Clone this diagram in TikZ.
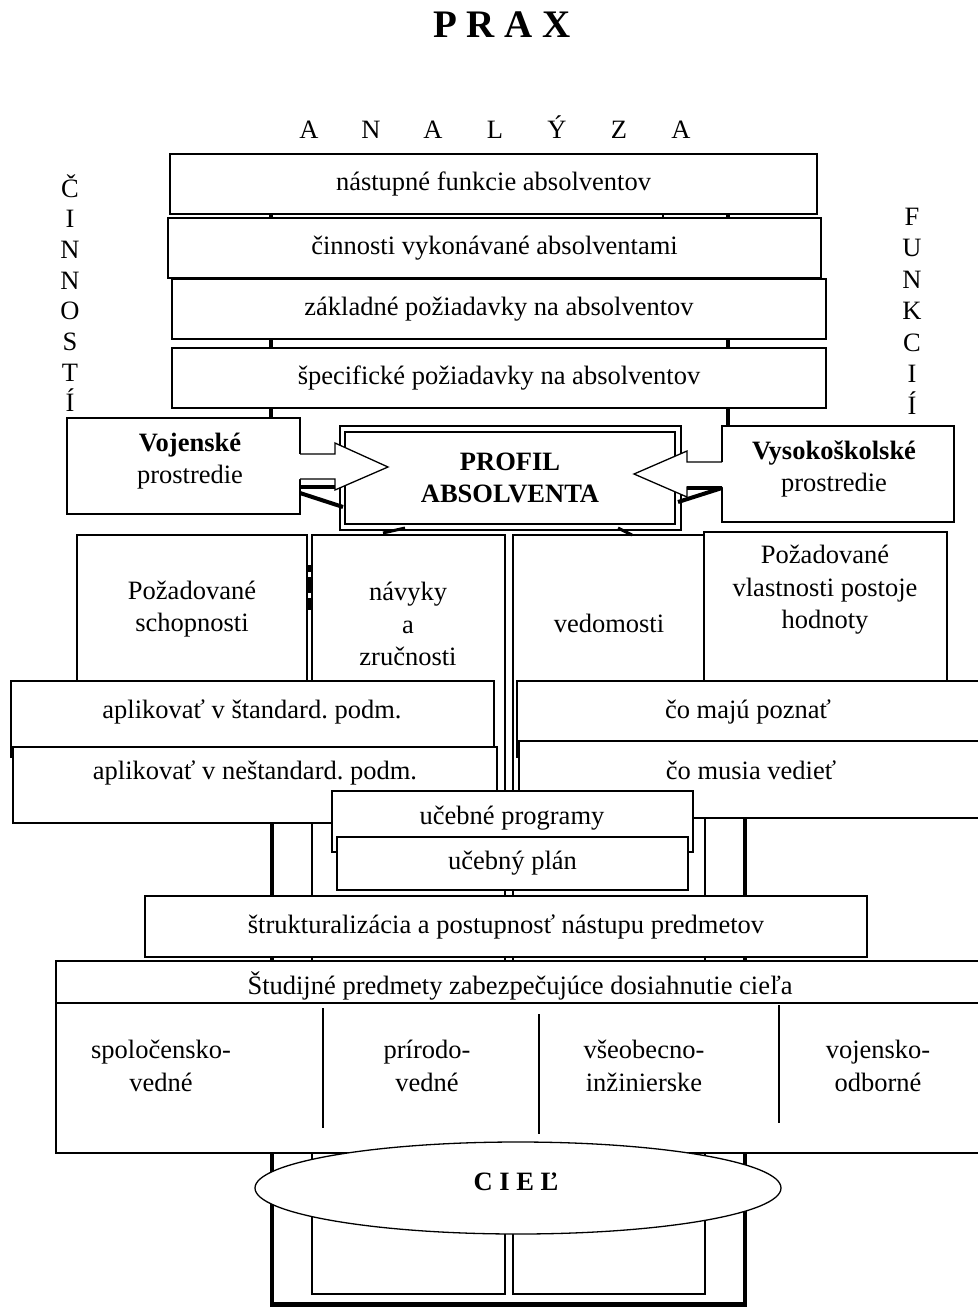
\documentclass[tikz,border=0pt]{standalone}
\usepackage{fontspec}
\setmainfont{Liberation Serif}
\usetikzlibrary{shapes.geometric}
\frenchspacing
\newcommand\fs{\fontsize{26.5}{32.5}\selectfont}
\newcommand\mybox[6]{\node[rbox, minimum width={(#4-#2)*1pt}, minimum height={(#5-#3)*1pt}] (#1) at ({(#2+#4)/2},{(#3+#5)/2}) {#6};}
\begin{document}
\begin{tikzpicture}[x=1pt,y=-1pt,
 rbox/.style={draw, fill=white, line width=1.3pt, inner sep=0pt, align=center, font=\fs},
 txt/.style={inner sep=0pt, align=center, font=\fs},
 letter/.style={inner sep=0pt, anchor=base, font=\fs},
 thk/.style={line width=4.5pt, line join=miter},
 bline/.style={line width=1.3pt, line join=miter}]
\useasboundingbox (0,0) rectangle (977,1308);
% titles
\node[txt, font=\bfseries\fontsize{39}{47}\selectfont] (title) at (502,25) {P R A X};
\foreach \l [count=\i from 0] in {A,N,A,L,Ý,Z,A} \node[letter] (an\i) at (309+62*\i,139) {\l};
\foreach \l [count=\i from 0] in {Č,I,N,N,O,S,T,Í} \node[letter] (cin\i) at (70,197+30.7*\i) {\l};
\foreach \l [count=\i from 0] in {F,U,N,K,C,I,Í} \node[letter] (fun\i) at (912,225+31.5*\i) {\l};
% top stack
\mybox{b1}{170}{154}{817}{214}{nástupné funkcie absolventov}
\mybox{b2}{168}{218}{821}{278}{činnosti vykonávané absolventami}
\mybox{b3}{172}{279}{826}{339}{základné požiadavky na absolventov}
\mybox{b4}{172}{348}{826}{408}{špecifické požiadavky na absolventov}
\mybox{voj}{67}{418}{300}{514}{}
\node[txt] (vojt) at (190,461) {\textbf{Vojenské}\\prostredie};
\mybox{vys}{722}{426}{954}{522}{}
\node[txt] (vyst) at (834,469) {\textbf{Vysokoškolské}\\prostredie};
\coordinate (xa) at (271,0); \coordinate (xb) at (728,0); \coordinate (xc) at (663,0);
\draw[thk] (b1.south -| xa) -- (b2.north -| xa);
\draw[thk] (b1.south -| xb) -- (b2.north -| xb);
\draw[line width=2.5pt] (b1.south -| xc) -- (b2.north -| xc);
\draw[thk] (b3.south -| xa) -- (b4.north -| xa);
\draw[thk] (b3.south -| xb) -- (b4.north -| xb);
\draw[thk] (b4.south -| xa) -- (voj.north -| xa);
\draw[thk] (b4.south -| xb) -- (vys.north -| xb);
% columns
\mybox{nav}{312}{535}{505}{1294}{}
\node[txt] (navt) at (408,624) {návyky\\a\\zručnosti};
\mybox{ved}{513}{535}{705}{1294}{}
\node[txt] (vedt) at (609,623) {vedomosti};
\mybox{pozs}{77}{535}{307}{700}{}
\node[txt] (pozst) at (192,609) {Požadované\\schopnosti};
\mybox{pozv}{704}{532}{947}{700}{}
\node[txt] (pozvt) at (825,590) {Požadované\\vlastnosti postoje\\hodnoty};
\coordinate (m1) at (309.5,565); \coordinate (m2) at (309.5,610);
\draw[line width=3.5pt, dash pattern=on 7pt off 5pt on 16pt off 5pt on 12pt] (m1) -- (m2);
% profil
\node[draw, fill=white, line width=1.3pt, inner sep=0pt, minimum width=341pt, minimum height=104pt] (profo) at (510.5,478) {};
\node[draw, line width=2.6pt, inner sep=0pt, minimum width=330pt, minimum height=92pt, align=center, font=\fs\bfseries] (prof) at (510,478) {PROFIL\\ABSOLVENTA};
\draw[line width=3pt] (383,533) -- (405,528);
\draw[line width=3pt] (618,528) -- (632,535);
% arrows
\fill[white] (298.5,454) -- (335,454) -- (335,443) -- (388,467) -- (335,490) -- (335,479) -- (298.5,479) -- cycle;
\draw[bline] (300,454) -- (335,454) -- (335,443) -- (388,467) -- (335,490) -- (335,479) -- (300,479);
\draw[line width=4pt] (300,487) -- (335,487);
\draw[line width=4pt] (300,493) -- (343,507);
\fill[white] (723.5,462) -- (687,462) -- (687,451) -- (634,474) -- (687,497) -- (687,487) -- (723.5,487) -- cycle;
\draw[bline] (722,462) -- (687,462) -- (687,451) -- (634,474) -- (687,497) -- (687,487) -- (722,487);
\draw[line width=4pt] (687,488) -- (722,488);
\draw[line width=4pt] (722,488) -- (678,502);
% application boxes
\mybox{a1}{11}{681}{494}{757}{}
\node[txt] (a1t) at (252,712) {aplikovať v štandard. podm.};
\mybox{a2}{13}{747}{497}{823}{}
\node[txt] (a2t) at (255,773) {aplikovať v neštandard. podm.};
\mybox{c1}{517}{681}{985}{757}{}
\node[txt] (c1t) at (748,712) {čo majú poznať};
\mybox{c2}{519}{741}{985}{818}{}
\node[txt] (c2t) at (751,770) {čo musia vedieť};
% lower thick frame
\coordinate (xd) at (272,0); \coordinate (xe) at (745,0); \coordinate (yb) at (0,1304.5);
\draw[thk] (a2.south -| xd) -- (xd |- yb) -- (xe |- yb) -- (c2.south -| xe);
% programs
\mybox{up}{332}{791}{693}{852}{}
\node[txt] (upt) at (512,818) {učebné programy};
\mybox{upl}{337}{837}{688}{890}{učebný plán}
\mybox{st}{145}{896}{867}{957}{štrukturalizácia a postupnosť nástupu predmetov}
% study subjects
\mybox{sp}{56}{961}{985}{1153}{}
\coordinate (yh) at (0,1003);
\draw[bline] (sp.west |- yh) -- (sp.east |- yh);
\node[txt] (spt) at (520,986) {Študijné predmety zabezpečujúce dosiahnutie cieľa};
\coordinate (d1a) at (323,1008); \coordinate (d1b) at (323,1128);
\coordinate (d2a) at (539,1014); \coordinate (d2b) at (539,1134);
\coordinate (d3a) at (779,1005); \coordinate (d3b) at (779,1123);
\draw[bline] (d1a) -- (d1b);
\draw[bline] (d2a) -- (d2b);
\draw[bline] (d3a) -- (d3b);
\node[txt] (k1) at (161,1066) {spoločensko-\\vedné};
\node[txt] (k2) at (427,1066) {prírodo-\\vedné};
\node[txt] (k3) at (644,1066) {všeobecno-\\inžinierske};
\node[txt] (k4) at (878,1066) {vojensko-\\odborné};
% goal
\node[ellipse, draw, fill=white, line width=1.3pt, inner sep=0pt, minimum width=526pt, minimum height=92pt] (ciel) at (518,1188) {};
\node[txt, font=\fs\bfseries] (cielt) at (516,1182) {C I E Ľ};
\end{tikzpicture}
\end{document}
